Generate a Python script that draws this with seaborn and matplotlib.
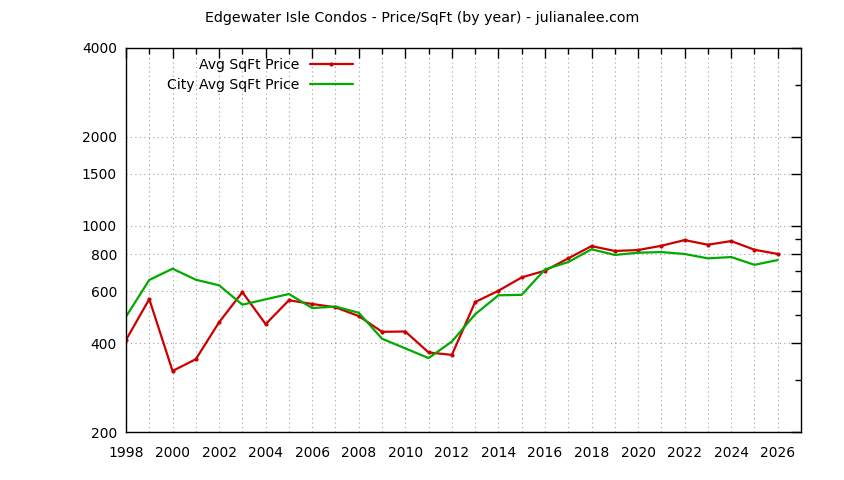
import matplotlib
matplotlib.use("Agg")
import matplotlib.pyplot as plt
import matplotlib.ticker as mticker
import seaborn as sns
import pandas as pd

years = list(range(1998, 2027))
avg_sqft = [410, 564, 322, 353, 471, 595, 464, 559, 543, 529, 494, 437, 438, 372, 365,
            551, 602, 668, 704, 775, 853, 821, 827, 855, 894, 862, 887, 829, 802]
city_avg_sqft = [492, 655, 715, 656, 628, 540, 563, 587, 526, 532, 507, 414, 384, 356, 405,
                 501, 581, 583, 711, 753, 832, 796, 810, 814, 802, 775, 783, 737, 765]

y_major = [200, 400, 600, 800, 1000, 1500, 2000, 4000]
y_minor = [300, 500, 700, 900, 3000]
x_major = list(range(1998, 2027, 2))
x_minor = list(range(1999, 2027, 2))

title = "Edgewater Isle Condos - Price/SqFt (by year) - julianalee.com"
label_avg = "Avg SqFt Price"
label_city = "City Avg SqFt Price"

sns.set_theme(style="white")
plt.rcParams["font.family"] = ["DejaVu Sans"]
plt.rcParams["font.size"] = 10
plt.rcParams["text.color"] = "black"

df = pd.DataFrame({"year": years, "avg": avg_sqft, "city": city_avg_sqft})

fig = plt.figure(figsize=(8.44, 4.8), dpi=100)
ax = fig.add_axes([126 / 844, 1 - 432 / 480, (801 - 126) / 844, (432 - 48) / 480])

red = "#cc0000"
green = "#00aa00"

sns.lineplot(data=df, x="year", y="avg", ax=ax, color=red, linewidth=1.6,
             marker="o", markersize=3, markeredgewidth=0, label=label_avg)
sns.lineplot(data=df, x="year", y="city", ax=ax, color=green, linewidth=1.6,
             label=label_city)

ax.set_yscale("log")
ax.set_ylim(200, 4000)
ax.set_xlim(1998, 2027)

ax.yaxis.set_major_locator(mticker.FixedLocator(y_major))
ax.yaxis.set_minor_locator(mticker.FixedLocator(y_minor))
ax.yaxis.set_major_formatter(mticker.FixedFormatter([str(v) for v in y_major]))
ax.yaxis.set_minor_formatter(mticker.NullFormatter())
ax.xaxis.set_major_locator(mticker.FixedLocator(x_major))
ax.xaxis.set_minor_locator(mticker.FixedLocator(x_minor))
ax.xaxis.set_major_formatter(mticker.FixedFormatter([str(v) for v in x_major]))

ax.set_xlabel("")
ax.set_ylabel("")

ax.tick_params(which="both", direction="in", top=True, right=True, colors="black",
               labelcolor="black", width=1)
ax.tick_params(which="major", length=7, labelsize=10)
ax.tick_params(which="minor", length=4)
ax.tick_params(axis="x", which="major", pad=10)
ax.tick_params(axis="y", which="major", pad=6.5)

ax.grid(True, which="major", axis="y", linestyle=(0, (1, 3)), color="#a0a0a0", linewidth=0.8)
ax.grid(True, which="both", axis="x", linestyle=(0, (1, 3)), color="#a0a0a0", linewidth=0.8)
ax.set_axisbelow(True)

for s in ax.spines.values():
    s.set_visible(True)
    s.set_color("black")
    s.set_linewidth(1)

leg = ax.legend(loc="upper right", bbox_to_anchor=(353 / 844, 1 - 58 / 480),
                bbox_transform=fig.transFigure, frameon=False, markerfirst=False,
                handlelength=3.1, handletextpad=0.75, labelspacing=0.42,
                borderpad=0, borderaxespad=0, fontsize=10.1)
for t in leg.get_texts():
    t.set_color("black")

fig.text(0.5, 1 - 18 / 480, title, ha="center", va="center", fontsize=10.2, color="black")

fig.savefig("out.png", dpi=100, facecolor="white")
